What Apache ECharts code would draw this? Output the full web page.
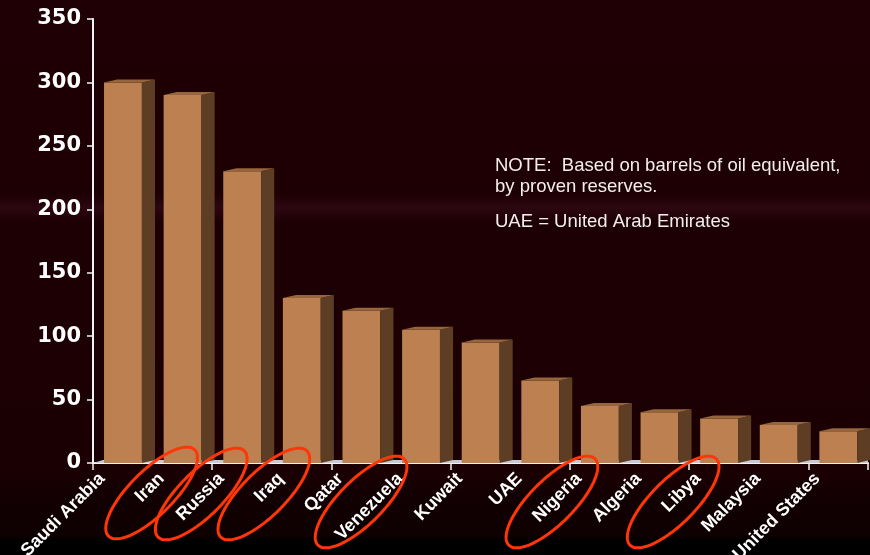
<!DOCTYPE html>
<html>
<head>
<meta charset="utf-8">
<script src="https://cdn.jsdelivr.net/npm/echarts@6/dist/echarts.min.js"></script>
<style>
html,body{margin:0;padding:0;background:#000;}
#chart{width:870px;height:555px;}
</style>
</head>
<body>
<div id="chart"></div>
<script>
const countries = ['Saudi Arabia','Iran','Russia','Iraq','Qatar','Venezuela','Kuwait','UAE','Nigeria','Algeria','Libya','Malaysia','United States'];
const reserves = [300, 290, 230, 130, 120, 105, 95, 65, 45, 40, 35, 30, 25];
const yTicks = [0, 50, 100, 150, 200, 250, 300, 350];
const circled = ['Iran','Russia','Iraq','Venezuela','Nigeria','Libya'];
const noteLines = ['NOTE:  Based on barrels of oil equivalent,', 'by proven reserves.'];
const noteUAE = 'UAE = United Arab Emirates';

// annotation ellipse offsets relative to each label's tick (hand-drawn look)
const ellipseOffsets = {
  'Iran': [-10, 30], 'Russia': [-20, 31], 'Iraq': [-17, 31],
  'Venezuela': [-39, 39], 'Nigeria': [-27, 39], 'Libya': [-25, 39]
};

const chart = echarts.init(document.getElementById('chart'), null, {renderer: 'canvas'});

function renderBar(params, api) {
  const i = api.value(0), v = api.value(1);
  const top = api.coord([i, v]);
  const base = api.coord([i, 0]);
  const band = api.size([1, 0])[0];
  const w = band * 0.635, dx = band * 0.22, dy = 3;
  const x0 = top[0] - band / 2 + band * 0.185;
  const children = [];
  if (params.dataIndex === 0) {
    const cs = params.coordSys;
    const yb = cs.y + cs.height;
    children.push({
      type: 'polygon',
      shape: {points: [[cs.x, yb], [cs.x + cs.width, yb], [cs.x + cs.width, yb - 3], [cs.x + 10, yb - 3]]},
      style: {fill: '#c9c9d2'}
    });
  }
  children.push({
    type: 'rect',
    shape: {x: x0, y: top[1], width: w, height: base[1] - top[1]},
    style: {fill: '#bd8151'}
  });
  children.push({
    type: 'polygon',
    shape: {points: [[x0 + w, top[1]], [x0 + w + dx, top[1] - dy], [x0 + w + dx, base[1] - dy], [x0 + w, base[1]]]},
    style: {fill: '#5d3e24'}
  });
  children.push({
    type: 'polygon',
    shape: {points: [[x0, top[1]], [x0 + w, top[1]], [x0 + w + dx, top[1] - dy], [x0 + dx, top[1] - dy]]},
    style: {fill: '#96653b'}
  });
  return {type: 'group', children: children};
}

function renderEllipse(params, api) {
  const idx = api.value(0);
  const name = countries[idx];
  const p = api.coord([idx, 0]);
  const off = ellipseOffsets[name] || [0, 30];
  const cx = p[0] + off[0], cy = p[1] + off[1];
  const a = 61, b = 22, c = Math.SQRT1_2;
  const pts = [];
  for (let k = 0; k < 90; k++) {
    const t = k / 90 * Math.PI * 2;
    const ca = a * Math.cos(t), sb = b * Math.sin(t);
    pts.push([cx + ca * c + sb * c, cy - ca * c + sb * c]);
  }
  return {
    type: 'polygon',
    shape: {points: pts},
    style: {fill: 'none', stroke: '#ff3608', lineWidth: 3}
  };
}

const option = {
  animation: false,
  backgroundColor: {
    type: 'linear', x: 0, y: 0, x2: 0, y2: 1,
    colorStops: [
      {offset: 0, color: '#1f0004'},
      {offset: 0.85, color: '#1b0003'},
      {offset: 0.89, color: '#120002'},
      {offset: 0.965, color: '#0e0001'},
      {offset: 0.975, color: '#000000'},
      {offset: 1, color: '#000000'}
    ]
  },
  graphic: [
    {
      type: 'rect', z: -10, left: 0, top: 194,
      shape: {width: 870, height: 28},
      style: {fill: {type: 'linear', x: 0, y: 0, x2: 0, y2: 1, colorStops: [
        {offset: 0, color: 'rgba(70,20,45,0)'},
        {offset: 0.5, color: 'rgba(70,20,45,0.35)'},
        {offset: 1, color: 'rgba(70,20,45,0)'}
      ]}}
    },
    {
      type: 'text', left: 495, top: 155, z: 10,
      style: {text: noteLines.join('\n'), fill: '#f3eeee', font: '18.5px "Liberation Sans", Arial, sans-serif', lineHeight: 21}
    },
    {
      type: 'text', left: 495, top: 212, z: 10,
      style: {text: noteUAE, fill: '#f3eeee', font: '18.5px "Liberation Sans", Arial, sans-serif'}
    }
  ],
  grid: [
    {left: 93, top: 19, width: 775, height: 444, outerBoundsMode: 'none', containLabel: false},
    {left: 102, top: 19, width: 775, height: 444, outerBoundsMode: 'none', containLabel: false}
  ],
  xAxis: [
    {
      type: 'category', gridIndex: 0, data: countries, boundaryGap: true,
      axisLine: {show: true, lineStyle: {color: '#f4f4f8', width: 2}},
      axisTick: {show: true, length: 7, lineStyle: {color: '#f4f4f8', width: 1.5}},
      axisLabel: {show: false}
    },
    {
      type: 'category', gridIndex: 1, data: countries.concat(['']), boundaryGap: false,
      axisLine: {show: false}, axisTick: {show: false},
      axisLabel: {
        show: true, interval: 0, rotate: 45, margin: 13,
        color: '#ffffff', fontWeight: 'bold', fontSize: 18,
        fontFamily: '"Liberation Sans", Arial, sans-serif'
      }
    }
  ],
  yAxis: [
    {
      type: 'value', gridIndex: 0, min: yTicks[0], max: yTicks[yTicks.length - 1], interval: yTicks[1] - yTicks[0],
      axisLine: {show: true, lineStyle: {color: '#f4f4f8', width: 2}},
      axisTick: {show: true, length: 6, lineStyle: {color: '#f4f4f8', width: 1.5}},
      splitLine: {show: false},
      axisLabel: {
        margin: 12, color: '#ffffff', fontWeight: 'bold', fontSize: 21,
        fontFamily: '"DejaVu Sans", sans-serif'
      }
    },
    {type: 'value', gridIndex: 1, min: 0, max: 350, show: false}
  ],
  series: [
    {
      type: 'custom', xAxisIndex: 0, yAxisIndex: 0,
      renderItem: renderBar,
      data: countries.map((c, i) => [i, reserves[i]]),
      clip: false, z: 3
    },
    {
      type: 'custom', xAxisIndex: 1, yAxisIndex: 1,
      renderItem: renderEllipse,
      data: circled.map(n => [countries.indexOf(n), 0]),
      clip: false, z: 5
    }
  ]
};
chart.setOption(option);
</script>
</body>
</html>
